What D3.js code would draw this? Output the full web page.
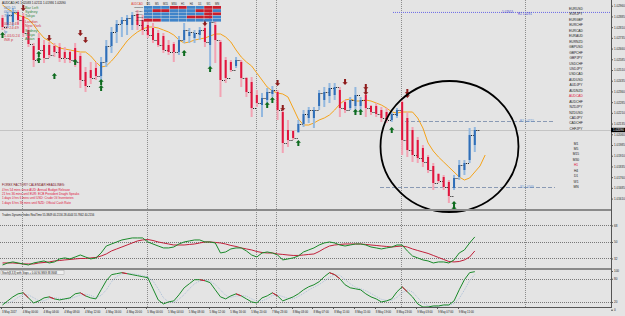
<!DOCTYPE html>
<html>
<head>
<meta charset="utf-8">
<script src="https://cdn.jsdelivr.net/npm/d3@7"></script>
<style>
  body { margin: 0; background: #e4e4e4; }
  svg { display: block; font-family: 'Liberation Sans', Arial, sans-serif; }
</style>
</head>
<body>
<div id="chart"></div>
<script>
// H1 bars, AUDCAD
const barOpen = [1.02874,1.02825,1.02846,1.02916,1.02888,1.0279,1.02678,1.02734,1.02685,1.02685,1.02678,1.02671,1.02636,1.02636,1.02664,1.02608,1.02496,1.0251,1.02524,1.02468,1.02566,1.02678,1.02776,1.02832,1.02825,1.02825,1.02902,1.0286,1.02825,1.02804,1.02769,1.02748,1.02685,1.02692,1.02636,1.0272,1.02748,1.02734,1.02755,1.02804,1.02685,1.02825,1.02706,1.0258,1.02566,1.02538,1.02566,1.02454,1.02426,1.02335,1.02265,1.023,1.02342,1.02356,1.02216,1.0209,1.02083,1.02076,1.02132,1.02174,1.02174,1.02258,1.023,1.02328,1.02335,1.0237,1.02286,1.02244,1.02258,1.02258,1.02335,1.02258,1.02258,1.0223,1.02216,1.0216,1.02188,1.02286,1.02174,1.0209,1.0202,1.01964,1.01901,1.01838,1.01782,1.01761,1.01726,1.01684,1.01761,1.0181,1.0188,1.01985]
const barHigh = [1.02895,1.02916,1.02944,1.0293,1.02909,1.02811,1.02699,1.02769,1.0272,1.02706,1.02699,1.02699,1.02671,1.0265,1.02699,1.02629,1.02531,1.02566,1.02566,1.02601,1.0272,1.02811,1.0286,1.02881,1.02895,1.02916,1.0293,1.02895,1.02874,1.02839,1.0279,1.02769,1.0272,1.02706,1.02748,1.02839,1.02804,1.0279,1.02811,1.0286,1.0293,1.0286,1.0272,1.02601,1.0258,1.02601,1.0258,1.02461,1.02461,1.0237,1.02349,1.02384,1.02398,1.0237,1.0223,1.0216,1.0209,1.0216,1.0223,1.02251,1.02251,1.0237,1.02391,1.02419,1.02419,1.02391,1.023,1.02321,1.02391,1.02321,1.0237,1.02265,1.02279,1.02251,1.02244,1.02216,1.02244,1.023,1.02216,1.02111,1.02041,1.01985,1.01915,1.01859,1.01789,1.01775,1.0174,1.01775,1.0188,1.0188,1.02104,1.02111]
const barLow = [1.0279,1.02804,1.02818,1.02825,1.02741,1.02671,1.02531,1.0265,1.02559,1.02594,1.02601,1.02566,1.02559,1.02559,1.02531,1.02384,1.02356,1.02412,1.0244,1.0244,1.02531,1.02629,1.02699,1.02741,1.02755,1.0279,1.0279,1.02755,1.02734,1.02699,1.02671,1.02629,1.02615,1.02566,1.02615,1.02699,1.02699,1.02699,1.0272,1.02671,1.02531,1.02559,1.02321,1.02419,1.02496,1.02524,1.02391,1.02321,1.02181,1.02251,1.02181,1.02279,1.02321,1.0216,1.01929,1.01971,1.0202,1.02069,1.02111,1.02139,1.02104,1.0223,1.02251,1.02279,1.023,1.02181,1.02209,1.0223,1.02209,1.0223,1.02181,1.02195,1.02181,1.02146,1.02139,1.02146,1.02174,1.01915,1.01901,1.01866,1.01859,1.01831,1.01789,1.0167,1.01719,1.0167,1.01579,1.0167,1.0174,1.01775,1.01859,1.01936]
const barClose = [1.02811,1.02895,1.02916,1.0286,1.02769,1.02692,1.0258,1.0265,1.02594,1.02615,1.02636,1.02594,1.02594,1.0258,1.02566,1.0244,1.02398,1.02454,1.02468,1.02566,1.02678,1.02776,1.02832,1.0286,1.02874,1.02895,1.02825,1.0279,1.02755,1.0272,1.02685,1.0265,1.02636,1.02636,1.0272,1.0279,1.02776,1.02769,1.0279,1.02706,1.02846,1.0272,1.0244,1.02454,1.0251,1.0258,1.02454,1.02356,1.02244,1.02279,1.02314,1.02356,1.0237,1.0223,1.01999,1.0202,1.02034,1.02132,1.02202,1.0223,1.0223,1.02349,1.02356,1.02384,1.02391,1.02244,1.0223,1.023,1.02335,1.023,1.02244,1.02216,1.02202,1.02174,1.0216,1.02202,1.0223,1.0202,1.0195,1.01915,1.01894,1.01866,1.0181,1.01719,1.01733,1.01691,1.01628,1.01754,1.01845,1.01859,1.02055,1.0209]

// moving average, shifted forward 2 bars
const maValues = [1.02965,1.02937,1.02916,1.02895,1.02881,1.02867,1.02825,1.02776,1.02734,1.02713,1.02685,1.02664,1.02657,1.0265,1.02643,1.02636,1.02636,1.02608,1.02566,1.02531,1.02538,1.02573,1.02615,1.02664,1.02713,1.02748,1.02776,1.02797,1.02811,1.02811,1.02804,1.0279,1.02776,1.02755,1.0272,1.02699,1.02706,1.0272,1.02727,1.02734,1.02748,1.02762,1.02762,1.02741,1.02706,1.0265,1.02601,1.02566,1.02538,1.02489,1.0244,1.02391,1.02363,1.02349,1.02342,1.02321,1.02244,1.02167,1.02125,1.02125,1.02139,1.0216,1.02174,1.02195,1.0223,1.02272,1.023,1.02307,1.02293,1.02293,1.023,1.02293,1.02279,1.02265,1.02244,1.02216,1.02209,1.02216,1.02216,1.02216,1.02174,1.02104,1.01999,1.01943,1.01901,1.01866,1.01831,1.01796,1.01761,1.0174,1.01754,1.01796,1.01838,1.01915]

// Traders Dynamic Index
const tdiGreen = [24.9,27.1,28.2,27.1,26.0,24.9,27.1,28.2,29.3,27.1,28.2,31.5,32.6,31.5,33.6,35.8,33.6,31.5,32.6,38.0,45.6,47.8,50.0,52.2,53.3,54.4,54.4,54.4,50.0,47.8,45.6,43.5,43.5,44.5,47.8,50.0,51.1,52.2,52.2,50.0,50.0,48.9,38.0,39.1,42.4,43.5,43.5,40.2,35.8,33.6,38.0,39.1,38.0,35.8,30.4,31.5,32.6,34.7,39.1,41.3,43.5,46.7,48.9,50.0,48.9,46.7,45.6,46.7,47.8,47.8,46.7,44.5,43.5,42.4,43.5,44.5,46.7,46.7,40.2,34.7,32.6,30.4,29.3,27.1,28.2,28.2,27.1,30.4,38.0,41.3,48.9,55.5]
const tdiRed = [27.1,27.1,27.1,26.6,26.0,26.0,26.0,27.1,27.6,28.2,29.3,29.8,30.4,30.9,31.5,32.0,32.0,32.6,33.1,34.7,36.9,40.2,42.4,44.5,46.7,48.9,51.1,52.2,52.7,51.6,50.0,48.9,47.8,46.7,46.7,46.7,47.3,47.8,48.9,50.0,50.0,49.5,48.9,47.8,46.2,45.1,43.5,42.4,41.3,39.6,38.5,38.0,38.0,36.9,36.4,35.8,35.3,35.3,35.8,36.4,36.9,39.6,42.9,45.6,46.7,47.3,47.8,47.8,47.8,47.8,47.3,46.7,46.2,45.6,45.1,44.5,45.1,45.6,44.5,42.4,40.7,39.1,37.5,35.3,33.1,30.9,28.7,28.2,28.7,30.4,33.6,40.2]
const tdiLevels = [68, 50, 32]

// Stochastic
const stochMain = [12.3,22.7,33.1,41.0,43.6,30.5,17.5,22.7,30.5,33.1,27.9,25.3,27.9,30.5,41.0,43.6,35.7,30.5,27.9,51.4,74.9,90.5,93.1,95.7,93.1,90.5,87.9,85.3,82.7,54.0,25.3,14.9,20.1,22.7,38.4,56.6,67.1,77.5,77.5,74.9,69.9,51.4,33.1,27.9,35.7,41.0,35.7,27.9,20.1,17.5,30.5,35.7,43.6,35.7,22.7,27.9,33.1,41.0,51.4,59.2,64.4,72.3,85.3,95.7,90.5,80.1,64.4,56.6,54.0,51.4,41.0,33.1,27.9,20.1,22.7,27.9,46.2,59.2,46.2,33.1,14.9,7.0,7.0,9.7,9.7,12.3,12.3,22.7,51.4,77.5,95.7,98.3]
const stochSignal = [18,17,22,32,39,38,31,23,23,29,31,29,27,28,33,38,40,37,31,37,51,72,86,93,94,93,91,88,85,74,54,31,20,19,27,39,54,67,74,77,74,65,51,37,32,35,37,35,28,22,23,28,37,38,34,29,28,34,42,51,58,65,74,84,90,89,78,67,58,54,49,42,34,27,24,24,32,44,51,46,31,18,10,8,9,10,11,16,29,51,75,91]
const stochLevels = [80, 20]

// signal arrows: [bar index, price at arrow tip]
const upArrows = [[0,1.02776],[7,1.02643],[7,1.02601],[10,1.02489],[14,1.02587],[19,1.02447],[19,1.02405],[35,1.0265],[40,1.02538],[51,1.02286],[52,1.02321],[57,1.0202],[68,1.02237],[69,1.02237],[75,1.02111],[87,1.01593],[87,1.01558]]
const downArrows = [[4,1.02923],[9,1.02713],[15,1.02748],[16,1.02699],[39,1.02818],[53,1.02398],[54,1.02223],[66,1.02405],[70,1.0237],[70,1.02335],[78,1.02335],[78,1.02314]]

const timeLabels = ['3 May 2017','4 May 00:00','4 May 04:00','4 May 08:00','4 May 12:00','4 May 16:00','4 May 20:00','5 May 00:00','5 May 04:00','5 May 08:00','5 May 12:00','5 May 16:00','5 May 20:00','7 May 23:00','8 May 03:00','8 May 07:00','8 May 11:00','8 May 15:00','8 May 19:00','8 May 23:00','9 May 03:00','9 May 07:00','9 May 11:00']
const daySeparators = [4, 28, 49, 53, 77, 101]
const priceTicks = [1.0296,1.02885,1.0281,1.02735,1.0266,1.02585,1.0251,1.02435,1.0236,1.02285,1.0221,1.02135,1.0206,1.01985,1.0191,1.01835,1.0176,1.01685,1.0161]
const bidPrice = 1.0209
const pivotR = 1.0215
const pivotS = 1.01688
const pivotTop = 1.02913

const symbols = ['EURUSD','EURJPY','EURGBP','EURCHF','EURCAD','EURAUD','EURNZD','GBPUSD','GBPCHF','GBPJPY','USDCHF','USDJPY','USDCAD','AUDUSD','AUDJPY','AUDNZD','AUDCAD','AUDCHF','NZDJPY','NZDUSD','CADJPY','CADCHF','CHFJPY']
const periods = ['M1','M5','M15','M30','H1','H4','D1','W1','MN']
const newsLines = [
  '4 hrs 54 mins since AUD: Annual Budget Release',
  '21 hrs 36 mins until EUR: ECB President Draghi Speaks',
  '1 days 0 hrs 6 mins until USD: Crude Oil Inventories',
  '1 days 6 hrs 36 mins until NZD: Official Cash Rate'
]
// trend table: 1 = up (blue), 0 = down (red)
const trendRows = ['Candles','MA(20)','RSI(9)','Stoch','MACD']
const trendGrid = [
  [1,1,1,0,0,1,1,0,0],
  [1,0,0,1,1,1,0,0,1],
  [1,1,1,1,1,1,1,0,0],
  [1,1,1,1,1,0,0,0,1],
  [0,0,1,1,1,1,1,1,1]
]

const width = 625
const height = 316
const plotRight = 611

const svg = d3
  .select('#chart')
  .append('svg')
  .attr('width', width)
  .attr('height', height)

svg.append('rect').attr('width', width).attr('height', height).attr('fill', '#e4e4e4')

// scales
const x = d3.scaleLinear().domain([0, 91]).range([2.5, 474.8])
const y = d3.scaleLinear().domain([1.01537, 1.03]).range([209, 0])
const yTdi = d3.scaleLinear().domain([21.6, 83.8]).range([268, 211])
const yStoch = d3.scaleLinear().domain([0, 100]).range([309.7, 271])

// day separators
svg.selectAll('.sep')
  .data(daySeparators)
  .enter()
  .append('line')
  .attr('x1', d => Math.round(x(d) - 1.3) + 0.5)
  .attr('x2', d => Math.round(x(d) - 1.3) + 0.5)
  .attr('y1', 0)
  .attr('y2', 307)
  .attr('stroke', '#8c8c8c')
  .attr('stroke-dasharray', '1,1')

// bid line
svg.append('line')
  .attr('x1', 0).attr('x2', plotRight)
  .attr('y1', Math.round(y(bidPrice)) + 0.5).attr('y2', Math.round(y(bidPrice)) + 0.5)
  .attr('stroke', '#c4c4c4')

// pivot levels
svg.append('line')
  .attr('x1', 393).attr('x2', plotRight)
  .attr('y1', y(pivotTop)).attr('y2', y(pivotTop))
  .attr('stroke', '#6a6ae6').attr('stroke-dasharray', '1,1')
;[[pivotR, 'R1 1.0215', 405], [pivotS, 'S1 1.0169', 380]].forEach(p => {
  svg.append('line')
    .attr('x1', p[2]).attr('x2', 555)
    .attr('y1', Math.round(y(p[0])) + 0.5).attr('y2', Math.round(y(p[0])) + 0.5)
    .attr('stroke', '#8a9ab4').attr('stroke-dasharray', '4,2')
  svg.append('text')
    .attr('x', 520).attr('y', y(p[0]) + 1)
    .attr('font-size', 3).attr('fill', '#5b8fd0')
    .text(p[1])
})
svg.append('text').attr('x', 502).attr('y', y(pivotTop) + 1).attr('font-size', 3).attr('fill', '#4a4ad0').text('1.02913')
svg.append('text').attr('x', 518).attr('y', y(pivotTop) + 2.5).attr('font-size', 3).attr('fill', '#4a4ad0').text('R2 1.0291')

// moving average
const maLine = d3.line().x((d, i) => x(i)).y(d => y(d))
svg.append('path')
  .datum(maValues)
  .attr('d', maLine)
  .attr('fill', 'none')
  .attr('stroke', '#f5a31a')
  .attr('stroke-width', 1)

// bars
const bars = svg.selectAll('.bar')
  .data(barOpen.map((o, i) => ({ i, o, h: barHigh[i], l: barLow[i], c: barClose[i] })))
  .enter()
  .append('g')
  .attr('class', 'bar')

bars.append('rect')
  .attr('x', d => x(d.i) - 1)
  .attr('width', 2)
  .attr('y', d => y(d.h))
  .attr('height', d => y(d.l) - y(d.h))
  .attr('fill', d => d.c >= d.o ? '#93b8df' : '#f2a3b3')

bars.append('rect')
  .attr('x', d => x(d.i) - 1)
  .attr('width', 2)
  .attr('y', d => y(Math.max(d.o, d.c)))
  .attr('height', d => Math.max(1, Math.abs(y(d.o) - y(d.c))))
  .attr('fill', d => d.c >= d.o ? '#2f6eb8' : '#e0153d')

bars.append('line')
  .attr('x1', d => x(d.i) + 1.5)
  .attr('x2', d => x(d.i) + 5)
  .attr('y1', d => Math.round(y(d.c)) + 0.5)
  .attr('y2', d => Math.round(y(d.c)) + 0.5)
  .attr('stroke', '#111')
  .attr('stroke-dasharray', '1,1')

// arrows
const arrowUp = 'M0,0 L2.6,2.8 L1,2.8 L1,6 L-1,6 L-1,2.8 L-2.6,2.8 Z'
const arrowDown = 'M0,0 L2.6,-2.8 L1,-2.8 L1,-6 L-1,-6 L-1,-2.8 L-2.6,-2.8 Z'
svg.selectAll('.up')
  .data(upArrows)
  .enter()
  .append('path')
  .attr('d', arrowUp)
  .attr('transform', d => `translate(${x(d[0])},${y(d[1])})`)
  .attr('fill', '#0d6b1e')
svg.selectAll('.down')
  .data(downArrows)
  .enter()
  .append('path')
  .attr('d', arrowDown)
  .attr('transform', d => `translate(${x(d[0])},${y(d[1])})`)
  .attr('fill', '#8e1b1b')

// hand-drawn circle
svg.append('ellipse')
  .attr('cx', 449.5).attr('cy', 146.5).attr('rx', 69).attr('ry', 65.5)
  .attr('fill', 'none').attr('stroke', '#000').attr('stroke-width', 1.8)

// symbol list and period list
svg.selectAll('.sym')
  .data(symbols)
  .enter()
  .append('text')
  .attr('x', 576)
  .attr('y', (d, i) => 10 + i * 5.45)
  .attr('text-anchor', 'middle')
  .attr('font-size', 3.3)
  .attr('fill', d => d === 'AUDCAD' ? '#e0153d' : '#222')
  .text(d => d)
svg.selectAll('.per')
  .data(periods)
  .enter()
  .append('text')
  .attr('x', 576)
  .attr('y', (d, i) => 144.5 + i * 5.45)
  .attr('text-anchor', 'middle')
  .attr('font-size', 3.3)
  .attr('fill', d => d === 'H1' ? '#e0153d' : '#222')
  .text(d => d)

// trend table
const cellW = 8.6
const table = svg.append('g').attr('transform', 'translate(144,5)')
table.selectAll('.hd')
  .data(periods)
  .enter()
  .append('text')
  .attr('x', (d, i) => i * cellW + cellW / 2)
  .attr('y', 0)
  .attr('text-anchor', 'middle')
  .attr('font-size', 2.6)
  .attr('fill', '#222')
  .text(d => d)
trendGrid.forEach((row, r) => {
  table.selectAll('.c' + r)
    .data(row)
    .enter()
    .append('rect')
    .attr('x', (d, i) => i * cellW)
    .attr('y', 1 + r * 3.2)
    .attr('width', cellW - 0.4)
    .attr('height', 2.8)
    .attr('fill', d => d ? '#3f84c9' : '#c81e2c')
})
table.selectAll('.rl')
  .data(trendRows)
  .enter()
  .append('text')
  .attr('x', -1)
  .attr('y', (d, i) => 3.3 + i * 3.2)
  .attr('text-anchor', 'end')
  .attr('font-size', 2.4)
  .attr('fill', '#222')
  .text(d => d)
table.append('text').attr('x', -1).attr('y', 0).attr('text-anchor', 'end')
  .attr('font-size', 2.8).attr('fill', '#e0402a').text('AUDCAD')

// header and info texts
svg.append('text').attr('x', 2).attr('y', 4).attr('font-size', 3).attr('fill', '#111')
  .text('AUDCAD,H1 1.02083 1.02111 1.01936 1.02090')
const leftInfo = [
  ['005:15', '#4a7fc0', 4, 9], ['00%:15', '#4a7fc0', 4, 13], ['77%', '#4a7fc0', 4, 17],
  ['00:24:49', '#d03a4a', 4, 25], ['12:24:49', '#d03a4a', 4, 29], ['Ip', '#4a7fc0', 4, 33],
  ['1.01/0.24', '#d03a4a', 4, 37], ['IN8 p', '#d03a4a', 4, 41],
  ['Bar Left', '#3b8a4a', 25, 9], ['Sydney', '#3b8a4a', 25, 13], ['Tokyo', '#3b8a4a', 25, 17],
  ['London', '#d03a4a', 25, 23], ['New York', '#d03a4a', 25, 27], ['Sydney', '#3b8a4a', 25, 32],
  ['Tokyo', '#3b8a4a', 25, 36], ['Asian', '#3b8a4a', 25, 40]
]
svg.selectAll('.info')
  .data(leftInfo)
  .enter()
  .append('text')
  .attr('x', d => d[2])
  .attr('y', d => d[3])
  .attr('font-size', 3.8)
  .attr('fill', d => d[1])
  .text(d => d[0])

svg.append('text').attr('x', 2).attr('y', 186).attr('font-size', 3.1).attr('fill', '#7a1020')
  .text('FOREX FACTORY CALENDAR HEADLINES:')
svg.selectAll('.news')
  .data(newsLines)
  .enter()
  .append('text')
  .attr('x', 2)
  .attr('y', (d, i) => 191 + i * 4.2)
  .attr('font-size', 3.1)
  .attr('fill', '#e0153d')
  .text(d => d)

// panel separators
svg.append('rect').attr('x', 0).attr('y', 209).attr('width', plotRight + 1).attr('height', 2).attr('fill', '#8a8a8a')
svg.append('rect').attr('x', 0).attr('y', 268).attr('width', plotRight + 1).attr('height', 2).attr('fill', '#8a8a8a')

// TDI panel
svg.selectAll('.tdilvl')
  .data(tdiLevels)
  .enter()
  .append('line')
  .attr('x1', 0).attr('x2', plotRight)
  .attr('y1', d => Math.round(yTdi(d)) + 0.5).attr('y2', d => Math.round(yTdi(d)) + 0.5)
  .attr('stroke', '#777').attr('stroke-dasharray', '1,1')
const tdiLine = d3.line().x((d, i) => x(i)).y(d => yTdi(d))
svg.append('path').datum(tdiRed).attr('d', tdiLine).attr('fill', 'none').attr('stroke', '#c0203a').attr('stroke-width', 1)
svg.append('path').datum(tdiGreen).attr('d', tdiLine).attr('fill', 'none').attr('stroke', '#1a8a2a').attr('stroke-width', 1)
svg.append('text').attr('x', 2).attr('y', 216).attr('font-size', 2.7).attr('fill', '#111')
  .text('Traders Dynamic Index RealTime 55.3849 40.2156 28.4044 55.7842 40.2156')

// Stoch panel
svg.selectAll('.stlvl')
  .data(stochLevels)
  .enter()
  .append('line')
  .attr('x1', 0).attr('x2', plotRight)
  .attr('y1', d => Math.round(yStoch(d)) + 0.5).attr('y2', d => Math.round(yStoch(d)) + 0.5)
  .attr('stroke', '#777').attr('stroke-dasharray', '1,1')
const stLine = d3.line().x((d, i) => x(i)).y(d => yStoch(d))
svg.append('path').datum(stochSignal).attr('d', stLine).attr('fill', 'none')
  .attr('stroke', '#9fb7d6').attr('stroke-width', 0.8).attr('stroke-dasharray', '1,1')
svg.append('path').datum(stochMain).attr('d', stLine).attr('fill', 'none').attr('stroke', '#1a8a2a').attr('stroke-width', 1)
// falling segments above signal drawn red
const redSegs = []
stochMain.forEach((v, i) => {
  if (i > 0 && v < stochMain[i - 1] && stochMain[i - 1] > stochSignal[i - 1]) redSegs.push([i - 1, i])
})
svg.selectAll('.stred')
  .data(redSegs)
  .enter()
  .append('line')
  .attr('x1', d => x(d[0])).attr('x2', d => x(d[1]))
  .attr('y1', d => yStoch(stochMain[d[0]])).attr('y2', d => yStoch(stochMain[d[1]]))
  .attr('stroke', '#e0153d').attr('stroke-width', 1)
svg.append('rect').attr('x', 1).attr('y', 270.5).attr('width', 63).attr('height', 4).attr('fill', '#f0f0f0').attr('stroke', '#999').attr('stroke-width', 0.4)
svg.append('text').attr('x', 2).attr('y', 273.8).attr('font-size', 2.6).attr('fill', '#111')
  .text('Stoch(8,3,3) with Stops + 0.00  94.9869 88.8668')

// right axis
svg.append('line').attr('x1', plotRight + 0.5).attr('x2', plotRight + 0.5).attr('y1', 0).attr('y2', 307).attr('stroke', '#555')
svg.append('line').attr('x1', 0).attr('x2', plotRight + 1).attr('y1', 307.5).attr('y2', 307.5).attr('stroke', '#555')

const yAxis = d3.axisRight(y).tickValues(priceTicks).tickSize(2).tickFormat(d3.format('.5f'))
const gy = svg.append('g').attr('transform', `translate(${plotRight},0)`).call(yAxis)
gy.select('.domain').remove()
gy.selectAll('line').attr('stroke', '#555')
gy.selectAll('text').attr('font-size', 3).attr('x', 3).attr('fill', '#222').attr('font-family', "'Liberation Sans', Arial, sans-serif")

svg.append('rect').attr('x', plotRight).attr('y', y(bidPrice) - 2.2).attr('width', 14).attr('height', 4.4).attr('fill', '#000')
svg.append('text').attr('x', plotRight + 2).attr('y', y(bidPrice) + 1.1).attr('font-size', 3).attr('fill', '#fff').text(d3.format('.5f')(bidPrice))

const tdiAxis = d3.axisRight(yTdi).tickValues(tdiLevels).tickSize(2)
const gt = svg.append('g').attr('transform', `translate(${plotRight},0)`).call(tdiAxis)
gt.select('.domain').remove()
gt.selectAll('line').attr('stroke', '#555')
gt.selectAll('text').attr('font-size', 3).attr('x', 3).attr('fill', '#222')

const stAxis = d3.axisRight(yStoch).tickValues([100, 80, 20, 0]).tickSize(2)
const gs = svg.append('g').attr('transform', `translate(${plotRight},0)`).call(stAxis)
gs.select('.domain').remove()
gs.selectAll('line').attr('stroke', '#555')
gs.selectAll('text').attr('font-size', 3).attr('x', 3).attr('fill', '#222')

// time axis
svg.selectAll('.tl')
  .data(timeLabels)
  .enter()
  .append('text')
  .attr('x', (d, i) => x(i * 4) - 0.5)
  .attr('y', 312.5)
  .attr('font-size', 2.8)
  .attr('fill', '#222')
  .text(d => d)
svg.selectAll('.tt')
  .data(timeLabels)
  .enter()
  .append('line')
  .attr('x1', (d, i) => Math.round(x(i * 4) - 1.5) + 0.5)
  .attr('x2', (d, i) => Math.round(x(i * 4) - 1.5) + 0.5)
  .attr('y1', 307)
  .attr('y2', 309)
  .attr('stroke', '#555')
</script>
</body>
</html>
